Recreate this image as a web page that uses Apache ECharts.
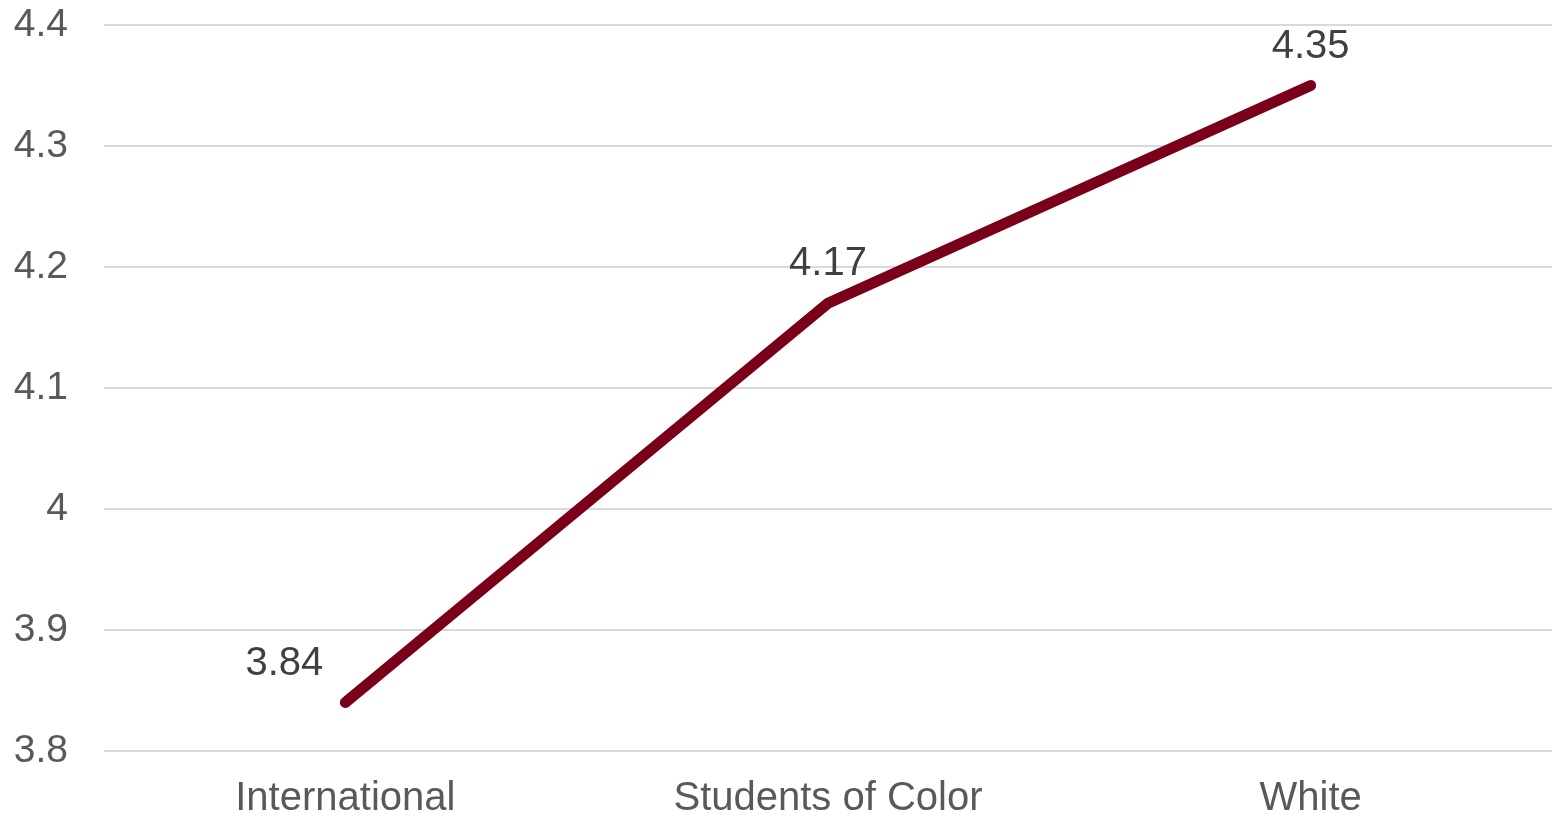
<!DOCTYPE html>
<html>
<head>
<meta charset="utf-8">
<script src="https://cdn.jsdelivr.net/npm/echarts@6/dist/echarts.min.js"></script>
<style>
  html, body { margin: 0; padding: 0; background: #fff; }
  #chart { width: 1553px; height: 816px; }
</style>
</head>
<body>
<div id="chart"></div>
<script>
// Mean scores by student group
const categories = ['International', 'Students of Color', 'White'];
const scores = [3.84, 4.17, 4.35];
const yTicks = [3.8, 3.9, 4, 4.1, 4.2, 4.3, 4.4];

const FONT = '"Liberation Sans", Arial, sans-serif';

const chart = echarts.init(document.getElementById('chart'));
chart.setOption({
  animation: false,
  backgroundColor: '#ffffff',
  grid: {
    left: 104, right: 1, top: 25, bottom: 65,
    containLabel: false,
    outerBoundsMode: 'none'
  },
  xAxis: {
    type: 'category',
    data: categories,
    boundaryGap: true,
    axisLine: { show: false },
    axisTick: { show: false },
    axisLabel: { color: '#595959', fontFamily: FONT, fontSize: 40, margin: 28 }
  },
  yAxis: {
    type: 'value',
    min: yTicks[0],
    max: yTicks[yTicks.length - 1],
    interval: 0.1,
    axisLine: { show: false },
    axisTick: { show: false },
    splitLine: { lineStyle: { color: '#d9d9d9', width: 2 } },
    axisLabel: {
      color: '#595959', fontFamily: FONT, fontSize: 39, margin: 36,
      padding: [5, 0, 0, 0],
      formatter: v => String(Math.round(v * 10) / 10)
    }
  },
  series: [{
    type: 'line',
    data: scores.map((v, i) => ({
      value: v,
      label: i === 0 ? { offset: [-61, 0] } : {}
    })),
    symbol: 'circle',
    symbolSize: 0,
    showSymbol: true,
    lineStyle: { color: '#7a0019', width: 11, cap: 'round', join: 'round' },
    itemStyle: { color: '#7a0019' },
    label: {
      show: true,
      position: 'top',
      distance: 39,
      verticalAlign: 'middle',
      color: '#404040',
      fontFamily: FONT,
      fontSize: 40,
      formatter: p => p.value.toFixed(2)
    }
  }]
});
</script>
</body>
</html>
